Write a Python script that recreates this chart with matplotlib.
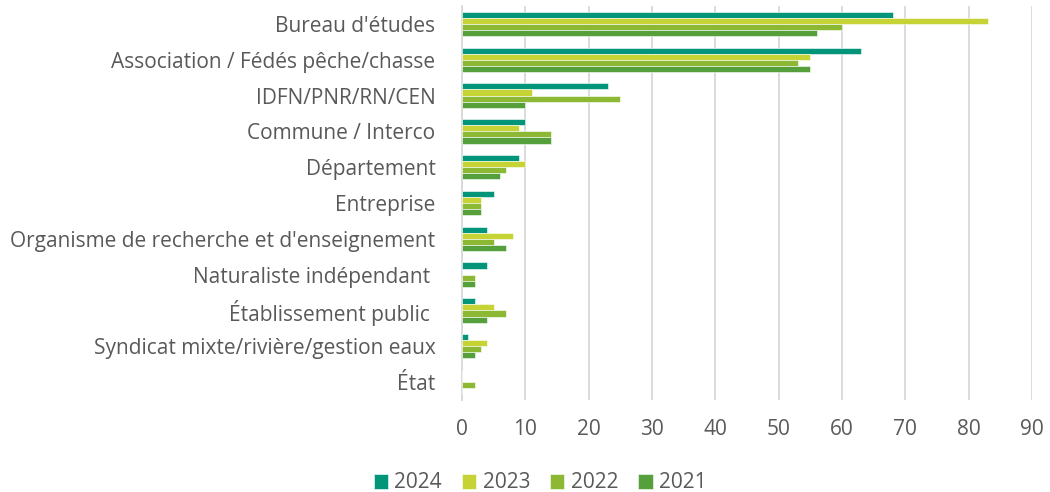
import matplotlib
matplotlib.use("Agg")
import matplotlib.pyplot as plt
import numpy as np

categories = ["Bureau d'études", "Association / Fédés pêche/chasse", "IDFN/PNR/RN/CEN",
              "Commune / Interco", "Département", "Entreprise",
              "Organisme de recherche et d'enseignement", "Naturaliste indépendant ",
              "Établissement public ", "Syndicat mixte/rivière/gestion eaux", "État"]
series_names = ["2024", "2023", "2022", "2021"]
v2024 = [68, 63, 23, 10, 9, 5, 4, 4, 2, 1, 0]
v2023 = [83, 55, 11, 9, 10, 3, 8, 0, 5, 4, 0]
v2022 = [60, 53, 25, 14, 7, 3, 5, 2, 7, 3, 2]
v2021 = [56, 55, 10, 14, 6, 3, 7, 2, 4, 2, 0]
colors = ["#03957A", "#C5D335", "#8CB834", "#55A03B"]
xticks = [0, 10, 20, 30, 40, 50, 60, 70, 80, 90]

plt.rcParams['font.family'] = ['Open Sans', 'DejaVu Sans']
text_color = "#595959"
fs = 15

fig = plt.figure(figsize=(10.5, 4.92), dpi=100)
ax = fig.add_axes([462/1050, 1-400/492, (1032-462)/1050, (400-6)/492])

y = np.arange(len(categories))
w = 0.17
for i, (vals, c, name) in enumerate(zip([v2024, v2023, v2022, v2021], colors, series_names)):
    ax.barh(y + (i - 1.5) * w, vals, height=w, color=c, edgecolor="white",
            linewidth=0.4, label=name, zorder=3)

ax.set_ylim(len(categories) - 0.5, -0.5)
ax.set_xlim(0, 90)
ax.set_xticks(xticks)
ax.set_yticks(y)
ax.set_yticklabels(categories)
ax.tick_params(axis='both', length=0, labelsize=fs, colors=text_color)
ax.tick_params(axis='y', pad=19)
ax.tick_params(axis='x', pad=14)
ax.grid(axis='x', color="#D9D9D9", linewidth=1.3, zorder=0)
for s in ["top", "right", "bottom"]:
    ax.spines[s].set_visible(False)
ax.spines["left"].set_color("#D9D9D9")
ax.spines["left"].set_linewidth(1.3)

handles, labels = ax.get_legend_handles_labels()
fig.legend(handles, labels, loc="center", bbox_to_anchor=(540/1050, 1-483/492),
           ncol=4, frameon=False, fontsize=fs, handlelength=0.7, handleheight=0.7,
           handletextpad=0.3, columnspacing=0.95, labelcolor=text_color)

fig.savefig("out.png", dpi=100)
